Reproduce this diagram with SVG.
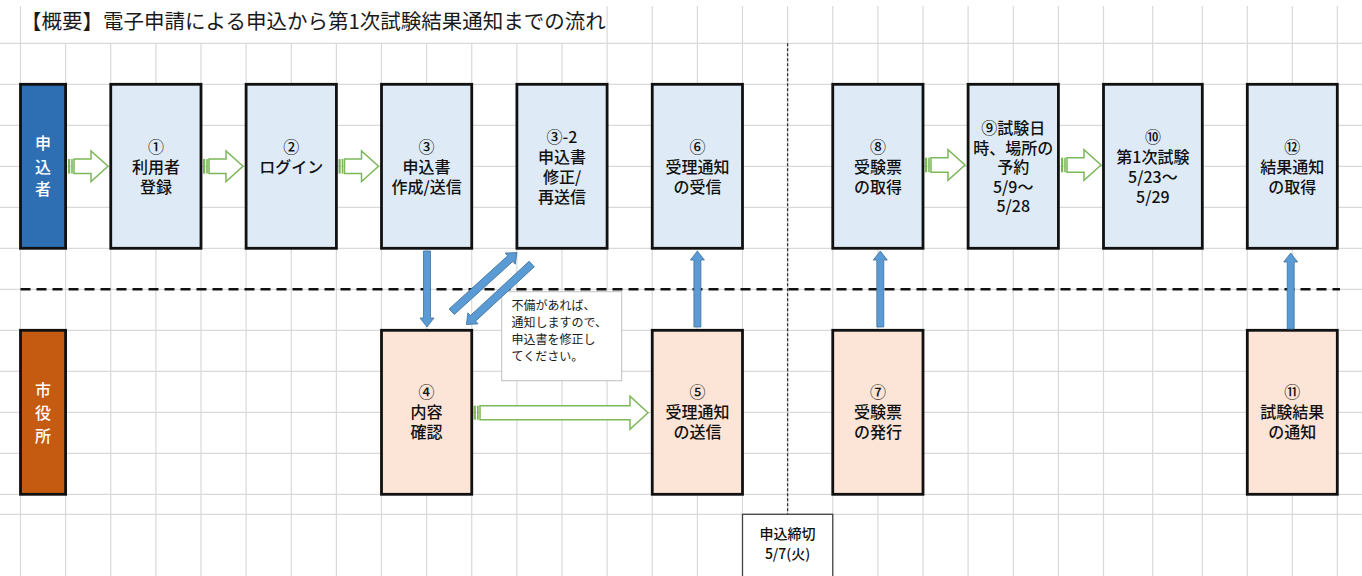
<svg xmlns="http://www.w3.org/2000/svg" width="1362" height="576" viewBox="0 0 1362 576">
<style>
.g{stroke:#D9D9D9;stroke-width:1.2;fill:none}
.box{stroke:#111;stroke-width:2.8}
.blue{fill:#DEEBF7}
.peach{fill:#FCE4D6}
.t{font-family:"Noto Sans CJK JP","Noto Sans",sans-serif;font-size:16px;fill:#111;text-anchor:middle;font-weight:500}
.lane{font-family:"Noto Sans CJK JP","Noto Sans",sans-serif;font-size:16px;fill:#fff;text-anchor:middle;font-weight:500}
.ga{fill:#fff;stroke:#7CB85A;stroke-width:1.5}
.gs{fill:#7CB85A}
.ba{fill:#5B9BD5;stroke:#41719C;stroke-width:0.8}
</style>
<defs>
<g id="garrow">
<rect class="gs" x="0" y="-7.3" width="2.2" height="14.6"/>
<rect class="gs" x="3.2" y="-7.3" width="1.6" height="14.6"/>
<path class="ga" d="M6,-7.3 H23 V-15.3 L40,0 L23,15.3 V7.3 H6 Z"/>
</g>
<polygon id="upar" class="ba" points="-3.5,0 3.5,0 3.5,-67 7,-67 0,-76 -7,-67 -3.5,-67"/>
</defs>
<rect width="1362" height="576" fill="#fff"/>
<g id="grid">
<path class="g" d="M0,43.3H1362M0,84.3H1362M0,125.3H1362M0,166.3H1362M0,207.3H1362M0,248.3H1362M0,289.3H1362M0,330.3H1362M0,371.3H1362M0,412.3H1362M0,453.3H1362M0,494.3H1362M0,514.3H1362"/>
<path class="g" d="M20.5,6V576M65.6,43.3V576M110.75,43.3V576M155.9,43.3V576M201,43.3V576M246.1,43.3V576M291.25,43.3V576M336.4,43.3V576M381.5,43.3V576M426.6,43.3V576M471.75,43.3V576M516.9,43.3V576M562,43.3V576M607.1,6V576M652.25,6V576M697.4,6V576M742.5,6V576M787.6,6V576M832.75,6V576M877.9,6V576M923,6V576M968.1,6V576M1013.25,6V576M1058.4,6V576M1103.5,6V576M1152.7,6V576M1202.3,6V576M1247.3,6V576M1292.3,6V576M1337.3,6V576"/>
</g>
<text x="21" y="29" style="font-family:'Noto Sans CJK JP','Noto Sans',sans-serif;font-size:20.5px;fill:#1a1a1a">【概要】電子申請による申込から第1次試験結果通知までの流れ</text>
<g id="dividers">
<path d="M20.5,289.3H1340" stroke="#111" stroke-width="2.6" stroke-dasharray="10,6" fill="none"/>
<path d="M787.6,43.3V514.3" stroke="#333" stroke-width="1.3" stroke-dasharray="3,2" fill="none"/>
</g>
<g id="lane-applicant">
<rect class="box" x="20.5" y="84.3" width="45.1" height="164" fill="#2E6FB4"/>
<text class="lane" x="43" y="149">申</text>
<text class="lane" x="43" y="172.5">込</text>
<text class="lane" x="43" y="195">者</text>
</g>
<g id="lane-city">
<rect class="box" x="20.5" y="330.3" width="45.1" height="164" fill="#C55A11"/>
<text class="lane" x="43" y="396">市</text>
<text class="lane" x="43" y="419">役</text>
<text class="lane" x="43" y="441.5">所</text>
</g>
<g id="n1">
<rect class="box blue" x="110.75" y="84.3" width="90.25" height="164"/>
<text class="t" x="155.9" y="153">①</text>
<text class="t" x="155.9" y="173">利用者</text>
<text class="t" x="155.9" y="193">登録</text>
</g>
<g id="n2">
<rect class="box blue" x="246.1" y="84.3" width="90.3" height="164"/>
<text class="t" x="291.25" y="153">②</text>
<text class="t" x="291.25" y="173">ログイン</text>
</g>
<g id="n3">
<rect class="box blue" x="381.5" y="84.3" width="90.25" height="164"/>
<text class="t" x="426.6" y="153">③</text>
<text class="t" x="426.6" y="173">申込書</text>
<text class="t" x="426.6" y="193">作成/送信</text>
</g>
<g id="n3-2">
<rect class="box blue" x="516.9" y="84.3" width="90.2" height="164"/>
<text class="t" x="562" y="143">③-2</text>
<text class="t" x="562" y="163">申込書</text>
<text class="t" x="562" y="183">修正/</text>
<text class="t" x="562" y="203">再送信</text>
</g>
<g id="n6">
<rect class="box blue" x="652.25" y="84.3" width="90.25" height="164"/>
<text class="t" x="697.4" y="153">⑥</text>
<text class="t" x="697.4" y="173">受理通知</text>
<text class="t" x="697.4" y="193">の受信</text>
</g>
<g id="n8">
<rect class="box blue" x="832.75" y="84.3" width="90.25" height="164"/>
<text class="t" x="877.9" y="153">⑧</text>
<text class="t" x="877.9" y="173">受験票</text>
<text class="t" x="877.9" y="193">の取得</text>
</g>
<g id="n9">
<rect class="box blue" x="968.1" y="84.3" width="90.3" height="164"/>
<text class="t" x="1013.25" y="134">⑨試験日</text>
<text class="t" x="1013.25" y="153.5">時、場所の</text>
<text class="t" x="1013.25" y="173">予約</text>
<text class="t" x="1013.25" y="192.5">5/9～</text>
<text class="t" x="1013.25" y="212">5/28</text>
</g>
<g id="n10">
<rect class="box blue" x="1103.5" y="84.3" width="98.8" height="164"/>
<text class="t" x="1152.9" y="143">⑩</text>
<text class="t" x="1152.9" y="163">第1次試験</text>
<text class="t" x="1152.9" y="183">5/23～</text>
<text class="t" x="1152.9" y="203">5/29</text>
</g>
<g id="n12">
<rect class="box blue" x="1247.3" y="84.3" width="90" height="164"/>
<text class="t" x="1292.3" y="153">⑫</text>
<text class="t" x="1292.3" y="173">結果通知</text>
<text class="t" x="1292.3" y="193">の取得</text>
</g>
<g id="n4">
<rect class="box peach" x="381.5" y="330.3" width="90.25" height="164"/>
<text class="t" x="426.6" y="398">④</text>
<text class="t" x="426.6" y="418">内容</text>
<text class="t" x="426.6" y="438">確認</text>
</g>
<g id="n5">
<rect class="box peach" x="652.25" y="330.3" width="90.25" height="164"/>
<text class="t" x="697.4" y="398">⑤</text>
<text class="t" x="697.4" y="418">受理通知</text>
<text class="t" x="697.4" y="438">の送信</text>
</g>
<g id="n7">
<rect class="box peach" x="832.75" y="330.3" width="90.25" height="164"/>
<text class="t" x="877.9" y="398">⑦</text>
<text class="t" x="877.9" y="418">受験票</text>
<text class="t" x="877.9" y="438">の発行</text>
</g>
<g id="n11">
<rect class="box peach" x="1247.3" y="330.3" width="90" height="164"/>
<text class="t" x="1292.3" y="398">⑪</text>
<text class="t" x="1292.3" y="418">試験結果</text>
<text class="t" x="1292.3" y="438">の通知</text>
</g>
<g id="note">
<rect x="501.7" y="291.7" width="120" height="89" fill="#fff" stroke="#BFBFBF" stroke-width="1"/>
<text style="font-family:'Noto Sans CJK JP','Noto Sans',sans-serif;font-size:12px;fill:#1a1a1a">
<tspan x="511.5" y="309.5">不備があれば、</tspan>
<tspan x="511.5" y="326.5">通知しますので、</tspan>
<tspan x="511.5" y="343.5">申込書を修正し</tspan>
<tspan x="511.5" y="360.5">てください。</tspan>
</text>
</g>
<g id="deadline">
<rect x="742.5" y="514.3" width="90.25" height="64" fill="#fff" stroke="#444" stroke-width="1.3"/>
<text class="t" x="787.6" y="539" style="font-size:14px">申込締切</text>
<text class="t" x="787.6" y="558.5" style="font-size:14px">5/7(火)</text>
</g>
<g id="connectors">
<use href="#garrow" x="68" y="166.3"/>
<use href="#garrow" x="203" y="166.3"/>
<use href="#garrow" x="338.5" y="166.3"/>
<use href="#garrow" x="925" y="165"/>
<use href="#garrow" x="1061" y="165"/>
<rect class="gs" x="473.5" y="405.7" width="2.4" height="14"/>
<rect class="gs" x="477" y="405.7" width="1.7" height="14"/>
<path class="ga" d="M480,405.7 H630 V396.2 L648,412.7 L630,429.2 V419.7 H480 Z"/>
<polygon class="ba" points="423.5,251 430.5,251 430.5,318 434,318 427,327 420,318 423.5,318"/>
<use href="#upar" x="697.4" y="327"/>
<use href="#upar" x="880.3" y="327"/>
<use href="#upar" x="1290.7" y="329"/>
<polygon class="ba" transform="translate(451.7,311.7) rotate(-42.2)" points="0,-3.8 79,-3.8 79,-7.5 88,0 79,7.5 79,3.8 0,3.8"/>
<polygon class="ba" transform="translate(531.7,264) rotate(137.2)" points="0,-3.8 80,-3.8 80,-7.5 89,0 80,7.5 80,3.8 0,3.8"/>
</g>
</svg>
